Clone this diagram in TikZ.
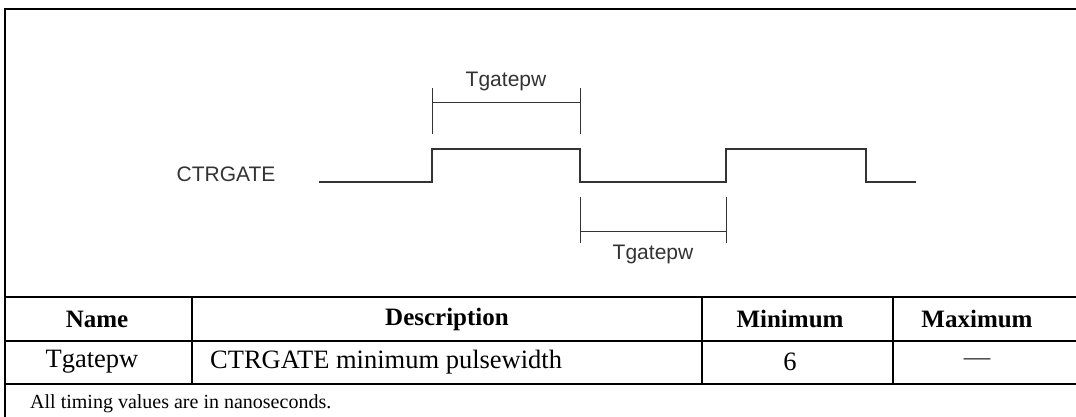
\documentclass[tikz,border=0pt]{standalone}
\usepackage{fontspec}
\setmainfont{Liberation Serif}
\newfontfamily\sigfont{Liberation Sans}
\usetikzlibrary{positioning, calc}
\definecolor{wavegray}{HTML}{333333}

\begin{document}
\begin{tikzpicture}[
  x=1pt, y=-1pt,
  frame/.style={draw=black, line width=2pt},
  wave/.style={draw=wavegray, line width=1.3pt},
  marker/.style={draw=wavegray, line width=1pt},
  siglabel/.style={font=\sigfont\fontsize{21}{24}\selectfont, text=wavegray, inner sep=0pt},
  headcell/.style={font=\bfseries\fontsize{25}{28}\selectfont, inner sep=0pt},
  bodycell/.style={font=\fontsize{26.5}{29}\selectfont, inner sep=0pt},
  note/.style={font=\fontsize{20}{22}\selectfont, inner sep=0pt, anchor=base west}
]
\useasboundingbox (0,0) rectangle (1076,417);
\fill[white] (0,0) rectangle (1076,417);

% timing diagram
\node[siglabel] (sig) at (226,174) {CTRGATE};
\coordinate (w0) at (319,182);
\coordinate (e1) at (432,182);
\coordinate (e2) at (580,182);
\coordinate (e3) at (726,182);
\coordinate (e4) at (866,182);
\coordinate (w1) at (916,182);
\draw[wave] (w0) -- (e1) -- ++(0,-33) -| (e2) -- (e3) -- ++(0,-33) -| (e4) -- (w1);

\coordinate (hi1) at (432,103);
\coordinate (hi2) at (580,103);
\draw[marker] (432,88) -- (432,134) (580,88) -- (580,134);
\draw[marker] (hi1) -- (hi2);
\node[siglabel, above=12pt of $(hi1)!0.5!(hi2)$] (pwhigh) {Tgatepw};

\coordinate (lo1) at (580,231);
\coordinate (lo2) at (726,231);
\draw[marker] (580,197) -- (580,243) (726,197) -- (726,243);
\draw[marker] (lo1) -- (lo2);
\node[siglabel, below=14pt of $(lo1)!0.5!(lo2)$] (pwlow) {Tgatepw};

% table
\draw[frame] (5,9) -- (1076,9);
\draw[frame] (5,8) -- (5,417);
\draw[frame] (5,297) -- (1076,297);
\draw[frame] (5,341) -- (1076,341);
\draw[frame] (5,384) -- (1076,384);
\foreach \cx in {192,702,893}
  \draw[frame] (\cx,297) -- (\cx,384);

\node[headcell] (hname) at (97,319) {Name};
\node[headcell] (hdesc) at (447,319) {Description};
\node[headcell] (hmin) at (790,319) {Minimum};
\node[headcell] (hmax) at (977,319) {Maximum};
\node[bodycell] (cname) at (92,362) {Tgatepw};
\node[bodycell, anchor=west] (cdesc) at (210,362) {CTRGATE minimum pulsewidth};
\node[bodycell] (cmin) at (790,362) {6};
\node[bodycell, text=wavegray] (cmax) at (977,362) {\textemdash};
\node[note] (notes) at (30,408) {All timing values are in nanoseconds.};
\end{tikzpicture}
\end{document}
